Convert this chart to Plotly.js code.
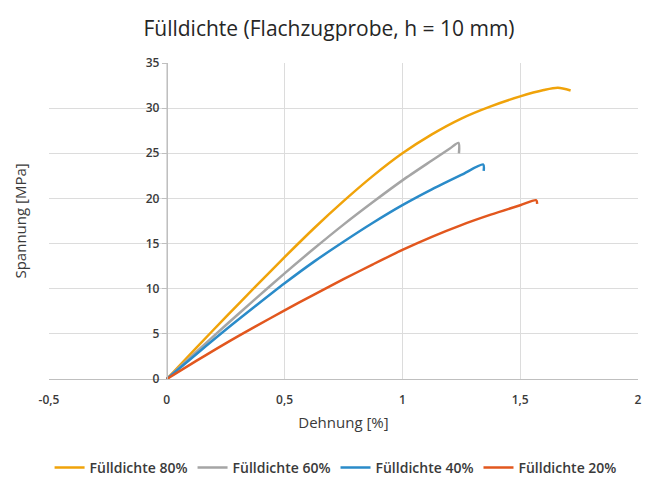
<!DOCTYPE html>
<html>
<head>
<meta charset="utf-8">
<script src="https://cdn.plot.ly/plotly-3.0.1.min.js"></script>
<style>html,body{margin:0;padding:0;background:#fff;}#chart{width:658px;height:479px;}</style>
</head>
<body>
<div id="chart"></div>
<script>
// Data (Dehnung [%] vs Spannung [MPa])
const seriesNames = ["Fülldichte 80%", "Fülldichte 60%", "Fülldichte 40%", "Fülldichte 20%"];

const x80 = [0, 0.125, 0.25, 0.375, 0.5, 0.625, 0.75, 0.875, 1.0, 1.125, 1.25, 1.375, 1.5, 1.6, 1.66, 1.714];
const y80 = [0, 3.45, 6.85, 10.2, 13.5, 16.7, 19.7, 22.5, 25.0, 27.1, 28.85, 30.2, 31.3, 32.0, 32.25, 31.95];

const x60 = [0, 0.125, 0.25, 0.375, 0.5, 0.625, 0.75, 0.875, 1.0, 1.125, 1.2, 1.238, 1.24];
const y60 = [0, 3.0, 5.95, 8.85, 11.7, 14.45, 17.1, 19.6, 22.0, 24.2, 25.5, 26.15, 25.0];

const x40 = [0, 0.125, 0.25, 0.375, 0.5, 0.625, 0.75, 0.875, 1.0, 1.125, 1.25, 1.343, 1.345];
const y40 = [0, 2.75, 5.45, 8.05, 10.6, 13.0, 15.2, 17.3, 19.25, 21.0, 22.6, 23.75, 23.05];

const x20 = [0, 0.125, 0.25, 0.375, 0.5, 0.625, 0.75, 0.875, 1.0, 1.125, 1.25, 1.375, 1.5, 1.568, 1.572];
const y20 = [0, 2.0, 3.95, 5.8, 7.6, 9.35, 11.05, 12.7, 14.3, 15.75, 17.05, 18.2, 19.25, 19.8, 19.4];

const xTickVals = [-0.5, 0, 0.5, 1, 1.5, 2];
const xTickText = ["-0,5", "0", "0,5", "1", "1,5", "2"];
const yTickVals = [0, 5, 10, 15, 20, 25, 30, 35];

const colors = ["#F0A30A", "#A5A5A5", "#2A8BC9", "#E2571E"];
const xs = [x80, x60, x40, x20];
const ys = [y80, y60, y40, y20];

const traces = seriesNames.map((n, i) => ({
  x: xs[i], y: ys[i], name: n, type: "scatter", mode: "lines",
  line: {color: colors[i], width: 2.5, shape: "spline", smoothing: 0.8},
  hoverinfo: "skip"
}));

const fontFam = "Open Sans, Noto Sans, sans-serif";
const txtCol = "#3a3a3a";
const layout = {
  width: 658, height: 479,
  margin: {l: 49, r: 20, t: 63, b: 100},
  paper_bgcolor: "#fff", plot_bgcolor: "#fff",
  font: {family: fontFam, color: txtCol, size: 11},
  title: {text: "Fülldichte (Flachzugprobe, h = 10 mm)", x: 0.5, xanchor: "center", y: 0.94, yanchor: "middle",
          font: {family: fontFam, size: 21, color: "#262626"}},
  xaxis: {
    range: [-0.5, 2], tickvals: xTickVals, ticktext: xTickText,
    showgrid: true, gridcolor: "#DCDCDC", gridwidth: 1,
    zeroline: false, showline: true, linecolor: "#BFBFBF", linewidth: 1,
    ticks: "outside", ticklen: 10, tickcolor: "rgba(0,0,0,0)",
    tickfont: {size: 12, color: txtCol, weight: 600},
    title: {text: "Dehnung [%]", font: {size: 15, color: txtCol}, standoff: 10},
    automargin: false, fixedrange: true
  },
  yaxis: {
    range: [0, 35], tickvals: yTickVals,
    anchor: "free", position: 0.2,
    showgrid: true, gridcolor: "#DCDCDC", gridwidth: 1,
    zeroline: false, showline: true, linecolor: "#BFBFBF", linewidth: 1,
    ticks: "outside", ticklen: 5, tickcolor: "#BFBFBF",
    tickfont: {size: 12, color: txtCol, weight: 600},
    automargin: false, fixedrange: true
  },
  showlegend: true,
  legend: {orientation: "h", xref: "container", yref: "container", x: 0.51, xanchor: "center", y: 0.023, yanchor: "middle",
           font: {size: 14, color: txtCol, weight: 600}, itemwidth: 30, tracegroupgap: 0},
  annotations: [{
    text: "Spannung [MPa]", xref: "paper", yref: "paper", x: -0.05, y: 0.5,
    xanchor: "center", yanchor: "middle", textangle: -90, showarrow: false,
    font: {size: 15, color: txtCol}
  }]
};

Plotly.newPlot("chart", traces, layout, {displayModeBar: false, staticPlot: true});
</script>
</body>
</html>
